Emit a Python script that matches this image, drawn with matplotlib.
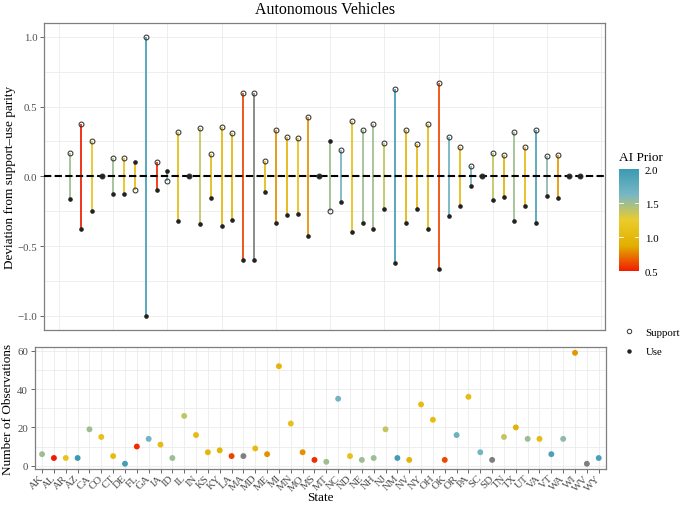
import matplotlib
matplotlib.use('Agg')
import matplotlib.pyplot as plt
import numpy as np
from matplotlib.colors import LinearSegmentedColormap, Normalize
from matplotlib.lines import Line2D
import matplotlib.cm as cm

plt.rcParams['font.family'] = ['Liberation Serif', 'DejaVu Serif']

states = ["AK", "AL", "AR", "AZ", "CA", "CO", "CT", "DE", "FL", "GA", "IA", "ID",
          "IL", "IN", "KS", "KY", "LA", "MA", "MD", "ME", "MI", "MN", "MO", "MS",
          "MT", "NC", "ND", "NE", "NH", "NJ", "NM", "NV", "NY", "OH", "OK", "OR",
          "PA", "SC", "SD", "TN", "TX", "UT", "VA", "VT", "WA", "WI", "WV", "WY"]

support_dev = [0.165, 0.375, 0.25, 0.0, 0.13, 0.13, -0.10, 1.0, 0.10, -0.036, 0.317, 0.0,
               0.345, 0.157, 0.357, 0.312, 0.60, 0.60, 0.11, 0.333, 0.28, 0.273, 0.429, 0.0,
               -0.25, 0.186, 0.40, 0.333, 0.375, 0.237, 0.625, 0.333, 0.235, 0.375, 0.667, 0.282,
               0.21, 0.071, 0.0, 0.167, 0.15, 0.321, 0.214, 0.333, 0.143, 0.152, 0.0, 0.0]

use_dev = [-0.165, -0.375, -0.25, 0.0, -0.13, -0.13, 0.10, -1.0, -0.10, 0.036, -0.317, 0.0,
           -0.345, -0.157, -0.357, -0.312, -0.60, -0.60, -0.11, -0.333, -0.28, -0.273, -0.429, 0.0,
           0.25, -0.186, -0.40, -0.333, -0.375, -0.237, -0.625, -0.333, -0.235, -0.375, -0.667, -0.282,
           -0.21, -0.071, 0.0, -0.167, -0.15, -0.321, -0.214, -0.333, -0.143, -0.152, 0.0, 0.0]

n_obs = [6, 4, 4, 4, 19, 15, 5, 1, 10, 14, 11, 4,
         26, 16, 7, 8, 5, 5, 9, 6, 52, 22, 7, 3,
         2, 35, 5, 3, 4, 19, 4, 3, 32, 24, 3, 16,
         36, 7, 3, 15, 20, 14, 14, 6, 14, 59, 1, 4]

nan = np.nan
ai_prior = [1.5, 0.5, 1.15, 2.0, 1.5, 1.1, 1.05, 1.95, 0.55, 1.65, 1.05, 1.5,
            1.38, 1.05, 0.98, 0.95, 0.6, nan, 1.05, 0.8, 0.95, 1.1, 0.8, 0.55,
            1.5, 1.65, 1.1, 1.5, 1.5, 1.38, 1.95, 0.95, 1.05, 1.05, 0.62, 1.7,
            1.05, 1.65, nan, 1.38, 0.92, 1.5, 1.05, 1.9, 1.55, 0.82, nan, 1.9]

cmap = LinearSegmentedColormap.from_list(
    "zissou", [(0.0, "#F21A00"), (0.25, "#E1AF00"), (0.5, "#EBCC2A"),
               (0.75, "#78B7C5"), (1.0, "#3B9AB2")])
norm = Normalize(0.5, 2.0)

def color_for(v):
    if np.isnan(v):
        return "#7F7F7F"
    return cmap(norm(v))

colors = [color_for(v) for v in ai_prior]
grid_c = "#EBEBEB"
border_c = "#7F7F7F"
tick_c = "#4D4D4D"

fig = plt.figure(figsize=(6.83, 5.06), dpi=100)

# top panel
ax1 = fig.add_axes([0.0649, 0.3464, 0.8209, 0.6062])
x = np.arange(1, len(states) + 1)
for xi, s, u, c in zip(x, support_dev, use_dev, colors):
    ax1.plot([xi, xi], [s, u], color=c, lw=1.25, zorder=2, solid_capstyle="butt")
ax1.axhline(0, color="black", lw=1.5, ls=(0, (3.5, 1.6)), zorder=3)
ax1.plot(x, support_dev, "o", ms=3.5, mfc="none", mec="#333333", mew=0.75, zorder=4)
ax1.plot(x, use_dev, "o", ms=2.3, color="#222222", zorder=5)
ax1.set_xlim(-1.35, 50.35)
ax1.set_ylim(-1.1, 1.1)
ax1.set_xticks(np.arange(0, 51, 5))
ax1.set_yticks([-1.0, -0.5, 0.0, 0.5, 1.0])
ax1.set_yticks([-0.75, -0.25, 0.25, 0.75], minor=True)
ax1.tick_params(axis="x", length=0, labelbottom=False)
ax1.tick_params(axis="y", which="major", length=3, color=tick_c, labelsize=7.8,
                labelcolor=tick_c, width=0.6, pad=2)
ax1.tick_params(axis="y", which="minor", length=0)
ax1.grid(True, which="both", color=grid_c, lw=0.6)
ax1.set_axisbelow(True)
for sp in ax1.spines.values():
    sp.set_color(border_c)
    sp.set_linewidth(0.9)

# bottom panel
ax2 = fig.add_axes([0.0512, 0.0706, 0.8358, 0.2411])
ax2.scatter(np.arange(len(states)), n_obs, s=18, c=colors, linewidths=0, zorder=3)
ax2.set_xlim(-0.6, len(states) - 0.4)
ax2.set_ylim(-1.9, 61.9)
ax2.set_xticks(np.arange(len(states)))
ax2.set_xticklabels(states, rotation=45, ha="right", va="center", rotation_mode="anchor",
                    fontsize=7.2)
ax2.set_yticks([0, 20, 40, 60])
ax2.set_yticks([10, 30, 50], minor=True)
ax2.tick_params(axis="both", which="major", length=3, color=tick_c, labelsize=7.8,
                labelcolor=tick_c, width=0.6, pad=2)
ax2.tick_params(axis="y", which="minor", length=0)
ax2.grid(True, which="both", color=grid_c, lw=0.6)
ax2.set_axisbelow(True)
for sp in ax2.spines.values():
    sp.set_color(border_c)
    sp.set_linewidth(0.9)

fig.text(324.6 / 683, 1 - 10 / 506, "Autonomous Vehicles", ha="center", va="center", fontsize=11.4)
fig.text(10 / 683, 1 - 177 / 506, "Deviation from support\u2013use parity", rotation=90,
         ha="center", va="center", fontsize=9.5)
fig.text(8 / 683, 1 - 409 / 506, "Number of Observations", rotation=90,
         ha="center", va="center", fontsize=9.5)
fig.text(320.4 / 683, 1 - 498 / 506, "State", ha="center", va="center", fontsize=9.5)

# colorbar
cax = fig.add_axes([619 / 683, 1 - 272.3 / 506, 20.3 / 683, 102.3 / 506])
cb = fig.colorbar(cm.ScalarMappable(norm=norm, cmap=cmap), cax=cax)
cb.outline.set_visible(False)
cb.set_ticks([0.5, 1.0, 1.5, 2.0])
cb.ax.tick_params(length=0, labelsize=7.8, pad=4)
for t in [1.0, 1.5]:
    cax.plot([0, 0.2], [t, t], color="white", lw=0.6, transform=cax.get_yaxis_transform())
    cax.plot([0.8, 1.0], [t, t], color="white", lw=0.6, transform=cax.get_yaxis_transform())
fig.text(619 / 683, 1 - 158 / 506, "AI Prior", ha="left", va="center", fontsize=9.5)

handles = [Line2D([], [], ls="none", marker="o", ms=3.2, mfc="none", mec="#333333", mew=0.7),
           Line2D([], [], ls="none", marker="o", ms=2.2, color="#222222")]
fig.legend(handles, ["Support", "Use"], loc="center left",
           bbox_to_anchor=(611 / 683, 1 - 343 / 506), frameon=False, fontsize=7.8,
           handlelength=1.5, labelspacing=0.9)

fig.savefig("out.png", dpi=100)
